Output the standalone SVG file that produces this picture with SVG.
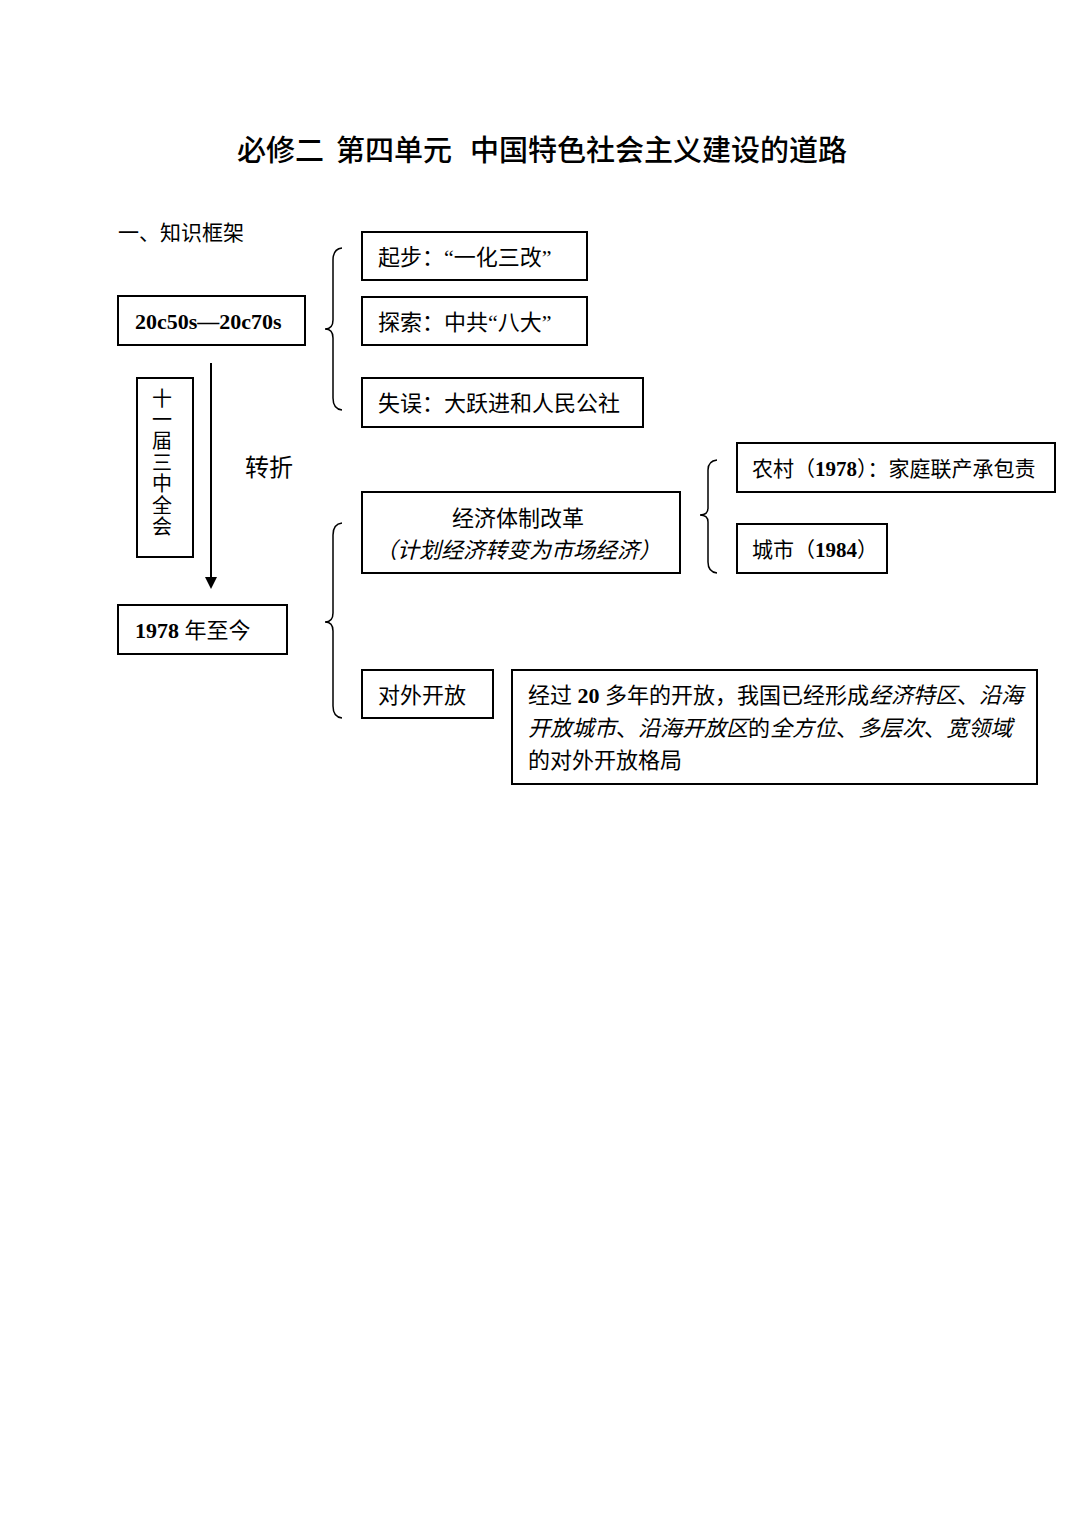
<svg xmlns="http://www.w3.org/2000/svg" width="1087" height="1536" viewBox="0 0 1087 1536">
<style>
text{font-family:"Liberation Serif","Noto Sans CJK SC",sans-serif;font-size:22px;fill:#000}
.cjk{font-family:"Noto Sans CJK SC",sans-serif}
.b{font-weight:bold}
.i{font-style:italic}
.title{font-size:29px;font-weight:500}
.s21{font-size:21px}
.vert{font-size:20px;writing-mode:vertical-rl;letter-spacing:1.4px}
.s24{font-size:24px}
.box{fill:#fff;stroke:#000;stroke-width:2}
.brace{fill:none;stroke:#000;stroke-width:1.5}
.conn{fill:none;stroke:#000;stroke-width:2}
</style>
<rect width="1087" height="1536" fill="#fff"/>
<text class="cjk title" y="161"><tspan x="237">必修二</tspan><tspan x="336">第四单元</tspan><tspan x="470">中国特色社会主义建设的道路</tspan></text>
<text class="cjk s21" x="118" y="240">一、知识框架</text>

<g id="connectors">
<line x1="211" y1="363" x2="211" y2="577" class="conn"/>
<path d="M205,577 L217,577 L211,589 Z" fill="#000"/>
<path class="brace" d="M342,248 Q333,249 333,260 L333,320 Q333,329 325,329 Q333,329 333,338 L333,398 Q333,409 342,410"/>
<path class="brace" d="M342,523 Q333,524 333,535 L333,613 Q333,622 325,622 Q333,622 333,631 L333,706 Q333,717 342,718"/>
<path class="brace" d="M717,460 Q708,461 708,470 L708,508 Q708,515 700,515 Q708,515 708,522 L708,562 Q708,572 717,573"/>
</g>

<g id="n-5070">
<rect class="box" x="118" y="296" width="187" height="49"/>
<text class="b" x="135" y="329">20c50s—20c70s</text>
</g>
<g id="n-qibu">
<rect class="box" x="362" y="232" width="225" height="48"/>
<text x="378" y="265">起步：“一化三改”</text>
</g>
<g id="n-tansuo">
<rect class="box" x="362" y="297" width="225" height="48"/>
<text x="378" y="330">探索：中共“八大”</text>
</g>
<g id="n-shiwu">
<rect class="box" x="362" y="378" width="281" height="49"/>
<text x="378" y="411">失误：大跃进和人民公社</text>
</g>
<g id="n-plenum">
<rect class="box" x="137" y="378" width="56" height="179"/>
<text class="cjk vert" x="162" y="388">十一届三中全会</text>
</g>
<g id="n-turn">
<text class="cjk s24" x="245" y="476">转折</text>
</g>
<g id="n-1978">
<rect class="box" x="118" y="605" width="169" height="49"/>
<text x="135" y="638"><tspan class="b">1978</tspan> 年至今</text>
</g>
<g id="n-econ">
<rect class="box" x="362" y="492" width="318" height="81"/>
<text class="cjk" x="518" y="526" text-anchor="middle">经济体制改革</text>
<text class="cjk i" x="518" y="558" text-anchor="middle">（计划经济转变为市场经济）</text>
</g>
<g id="n-rural">
<rect class="box" x="737" y="443" width="318" height="49"/>
<text class="s21" x="752" y="476">农村（<tspan class="b">1978</tspan>）：家庭联产承包责</text>
</g>
<g id="n-city">
<rect class="box" x="737" y="524" width="150" height="49"/>
<text class="s21" x="752" y="557">城市（<tspan class="b">1984</tspan>）</text>
</g>
<g id="n-open">
<rect class="box" x="362" y="670" width="131" height="48"/>
<text x="378" y="703">对外开放</text>
</g>
<g id="n-opendesc">
<rect class="box" x="512" y="670" width="525" height="114"/>
<text x="528" y="703">经过 <tspan class="b">20</tspan> 多年的开放，我国已经形成<tspan class="i">经济特区</tspan>、<tspan class="i">沿海</tspan></text>
<text x="528" y="736"><tspan class="i">开放城市</tspan>、<tspan class="i">沿海开放区</tspan>的<tspan class="i">全方位</tspan>、<tspan class="i">多层次</tspan>、<tspan class="i">宽领域</tspan></text>
<text x="528" y="768">的对外开放格局</text>
</g>
</svg>
